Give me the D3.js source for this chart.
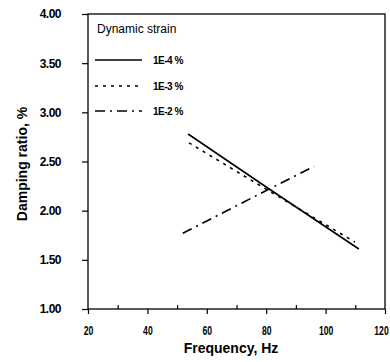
<!DOCTYPE html>
<html>
<head>
<meta charset="utf-8">
<script src="https://cdn.jsdelivr.net/npm/d3@7"></script>
<style>
  body { margin: 0; background: #fff; }
  text { fill: #000; }
</style>
</head>
<body>
<script>
// series values
var freq4 = [53.7, 81, 111.2];
var damp4 = [2.78, 2.22, 1.61];
var freq3 = [54, 81, 109.9];
var damp3 = [2.69, 2.20, 1.68];
var freq2 = [51.9, 81, 96.1];
var damp2 = [1.77, 2.22, 2.45];
var seriesNames = ["1E-4 %", "1E-3 %", "1E-2 %"];
var xTicks = [20, 40, 60, 80, 100, 120];
var yTicks = [1.00, 1.50, 2.00, 2.50, 3.00, 3.50, 4.00];

var width = 390, height = 362;
var padL = 88, padR = 385, padT = 14, padB = 309;

var svg = d3.select("body")
    .append("svg")
    .attr("width", width)
    .attr("height", height);

var x = d3.scaleLinear().domain([20, 120]).range([padL, padR]);
var y = d3.scaleLinear().domain([1, 4]).range([padB, padT]);

var sans = "Arial, 'Liberation Sans', sans-serif";

// frame
svg.append("rect")
    .attr("x", padL).attr("y", padT)
    .attr("width", padR - padL).attr("height", padB - padT)
    .attr("fill", "none").attr("stroke", "#000").attr("stroke-width", 1.3);

// x axis: major ticks outside, minor inside
var xAxis = svg.append("g")
    .attr("transform", "translate(0," + padB + ")")
    .call(d3.axisBottom(x).tickValues(xTicks).tickSize(5).tickPadding(12).tickFormat(d3.format("d")));
xAxis.select(".domain").remove();
xAxis.selectAll("text")
    .style("font-family", sans).style("font-weight", "bold").style("font-size", "12px")
    .attr("transform", function(d) { return (d === 120 ? "translate(-4,0) " : "") + "scale(0.72,1)"; });
svg.append("g")
    .attr("transform", "translate(0," + padB + ")")
    .call(d3.axisTop(x).tickValues(d3.range(30, 120, 20)).tickSize(4).tickFormat(""))
    .select(".domain").remove();

// y axis
var yAxis = svg.append("g")
    .attr("transform", "translate(" + padL + ",0)")
    .call(d3.axisLeft(y).tickValues(yTicks).tickSize(6).tickPadding(21).tickFormat(d3.format(".2f")));
yAxis.select(".domain").remove();
yAxis.selectAll("text")
    .style("font-family", sans).style("font-weight", "bold").style("font-size", "12px")
    .style("letter-spacing", "-0.5px");

svg.selectAll(".tick line").attr("stroke-width", 1.2);

// axis titles
svg.append("text")
    .attr("x", 231).attr("y", 353)
    .attr("text-anchor", "middle")
    .style("font-family", sans)
    .style("font-weight", "bold").style("font-size", "14px")
    .text("Frequency, Hz");

svg.append("text")
    .attr("transform", "translate(27,164) rotate(-90)")
    .attr("text-anchor", "middle")
    .style("font-family", sans)
    .style("font-weight", "bold").style("font-size", "14px")
    .text("Damping ratio, %");

// lines
var dashes = [null, "3,5", "10,5,2,5"];
var data = [
    d3.zip(freq4, damp4),
    d3.zip(freq3, damp3),
    d3.zip(freq2, damp2)
];
var line = d3.line().x(function(d) { return x(d[0]); }).y(function(d) { return y(d[1]); });

svg.selectAll(".series")
    .data(data)
    .enter()
    .append("path")
    .attr("class", "series")
    .attr("d", line)
    .attr("fill", "none")
    .attr("stroke", "#000")
    .attr("stroke-width", 1.6)
    .attr("stroke-dasharray", function(d, i) { return dashes[i]; });

// legend
svg.append("text")
    .attr("x", 97).attr("y", 33)
    .style("font-family", sans)
    .style("font-size", "12px")
    .text("Dynamic strain");

var legend = svg.selectAll(".leg")
    .data(seriesNames)
    .enter()
    .append("g")
    .attr("class", "leg")
    .attr("transform", function(d, i) { return "translate(0," + [60, 86, 111][i] + ")"; });

legend.append("line")
    .attr("x1", 95).attr("x2", 142)
    .attr("stroke", "#000").attr("stroke-width", 1.6)
    .attr("stroke-dasharray", function(d, i) { return dashes[i]; });

legend.append("text")
    .attr("x", 153).attr("y", 4)
    .style("font-family", sans).style("font-weight", "bold").style("font-size", "10px")
    .style("letter-spacing", "-0.5px")
    .text(function(d) { return d; });
</script>
</body>
</html>
